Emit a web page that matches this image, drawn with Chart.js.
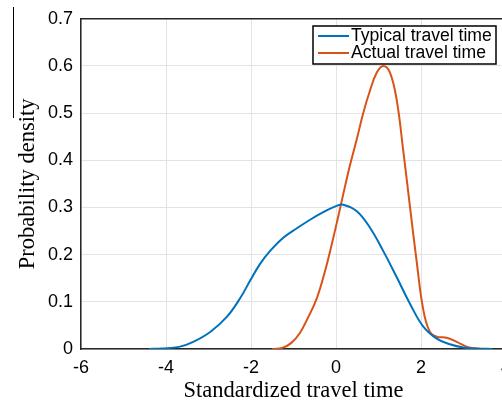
<!DOCTYPE html>
<html lang="en">
<head>
    <meta charset="UTF-8">
    <title>Standardized travel time density</title>
    <script src="https://cdn.jsdelivr.net/npm/chart.js"></script>
    <style>
        body {
            margin: 0;
            padding: 0;
            background-color: white;
            overflow: hidden;
        }
        canvas {
            display: block;
        }
    </style>
</head>
<body>
    <canvas id="densityChart" width="520" height="405"></canvas>
    <script>
        // values
        const typicalX = [-4.4, -4.1, -3.67, -3.36, -2.96, -2.57, -2.26, -2.02, -1.79, -1.55, -1.24, -0.92, -0.61, -0.3, 0, 0.17, 0.49, 0.8, 1.11, 1.43, 1.74, 2.05, 2.37, 2.68, 3.0, 3.3, 3.68];
        const typicalY = [0, 0.001, 0.005, 0.015, 0.036, 0.068, 0.107, 0.145, 0.18, 0.208, 0.236, 0.256, 0.274, 0.29, 0.303, 0.306, 0.292, 0.257, 0.208, 0.152, 0.096, 0.048, 0.022, 0.01, 0.003, 0.001, 0];

        const actualX = [-1.5, -1.25, -1.05, -0.85, -0.65, -0.45, -0.25, -0.1, 0.05, 0.17, 0.33, 0.49, 0.64, 0.8, 0.96, 1.11, 1.27, 1.43, 1.58, 1.74, 1.9, 2.05, 2.2, 2.37, 2.6, 2.84, 3.07, 3.3, 3.5];
        const actualY = [0, 0.003, 0.013, 0.034, 0.068, 0.108, 0.168, 0.222, 0.28, 0.328, 0.39, 0.445, 0.5, 0.548, 0.586, 0.6, 0.586, 0.527, 0.422, 0.302, 0.184, 0.085, 0.038, 0.026, 0.024, 0.015, 0.005, 0.001, 0];

        const seriesNames = ['Typical travel time', 'Actual travel time'];
        const seriesColors = ['#0072BD', '#D95319'];
        const yTickLabels = ['0', '0.1', '0.2', '0.3', '0.4', '0.5', '0.6', '0.7'];

        function toPoints(xs, ys) {
            return xs.map((x, i) => ({ x: x, y: ys[i] }));
        }

        // box on top, crop line at far left, and the framed legend
        const extras = {
            id: 'extras',
            afterDraw(chart) {
                const ctx = chart.ctx;
                const area = chart.chartArea;
                ctx.save();
                ctx.strokeStyle = '#262626';
                ctx.lineWidth = 1.5;
                ctx.beginPath();
                ctx.moveTo(area.left, area.top);
                ctx.lineTo(area.right, area.top);
                ctx.stroke();

                ctx.lineWidth = 1;
                ctx.strokeStyle = '#000';
                ctx.beginPath();
                ctx.moveTo(13.5, 7);
                ctx.lineTo(13.5, 118);
                ctx.stroke();

                // legend
                ctx.fillStyle = 'white';
                ctx.fillRect(313, 26, 183, 38);
                ctx.strokeStyle = '#000';
                ctx.lineWidth = 1.5;
                ctx.strokeRect(313, 26, 183, 38);
                ctx.font = '17.6px "Liberation Sans", Arial, sans-serif';
                ctx.textBaseline = 'middle';
                seriesNames.forEach((name, i) => {
                    const y = 36 + i * 17;
                    ctx.strokeStyle = seriesColors[i];
                    ctx.lineWidth = 2;
                    ctx.beginPath();
                    ctx.moveTo(318, y);
                    ctx.lineTo(349, y);
                    ctx.stroke();
                    ctx.fillStyle = '#000';
                    ctx.fillText(name, 351, y);
                });
                ctx.restore();
            }
        };

        const ctx = document.getElementById('densityChart').getContext('2d');
        new Chart(ctx, {
            type: 'line',
            data: {
                datasets: [{
                    label: seriesNames[0],
                    data: toPoints(typicalX, typicalY),
                    borderColor: seriesColors[0],
                    borderWidth: 2,
                    pointRadius: 0,
                    tension: 0.4,
                    fill: false
                }, {
                    label: seriesNames[1],
                    data: toPoints(actualX, actualY),
                    borderColor: seriesColors[1],
                    borderWidth: 2,
                    pointRadius: 0,
                    tension: 0.4,
                    fill: false
                }]
            },
            options: {
                responsive: false,
                animation: false,
                layout: {
                    padding: { top: 16, right: 14, left: 0, bottom: 0 }
                },
                plugins: {
                    legend: { display: false },
                    tooltip: { enabled: false }
                },
                scales: {
                    x: {
                        type: 'linear',
                        min: -6,
                        max: 4,
                        afterFit: s => { s.height = 56; },
                        ticks: {
                            stepSize: 2,
                            padding: 8,
                            color: '#000',
                            font: { family: '"Liberation Sans", Arial, sans-serif', size: 18 }
                        },
                        grid: {
                            color: '#e3e3e3',
                            drawTicks: false
                        },
                        border: { color: '#262626', width: 1.5 },
                        title: {
                            display: true,
                            text: 'Standardized travel time',
                            color: '#000',
                            padding: { top: 0, bottom: 0 },
                            font: { family: '"Liberation Serif", "Times New Roman", serif', size: 22.5 }
                        }
                    },
                    y: {
                        min: 0,
                        max: 0.7,
                        afterFit: s => { s.width = 81; },
                        ticks: {
                            stepSize: 0.1,
                            padding: 8,
                            color: '#000',
                            font: { family: '"Liberation Sans", Arial, sans-serif', size: 18 },
                            callback: (value, index) => yTickLabels[index]
                        },
                        grid: {
                            color: '#e3e3e3',
                            drawTicks: false
                        },
                        border: { color: '#262626', width: 1.5 },
                        title: {
                            display: true,
                            text: 'Probability density',
                            color: '#000',
                            padding: { top: 15, bottom: 0 },
                            font: { family: '"Liberation Serif", "Times New Roman", serif', size: 22.5 }
                        }
                    }
                }
            },
            plugins: [extras]
        });
    </script>
</body>
</html>
